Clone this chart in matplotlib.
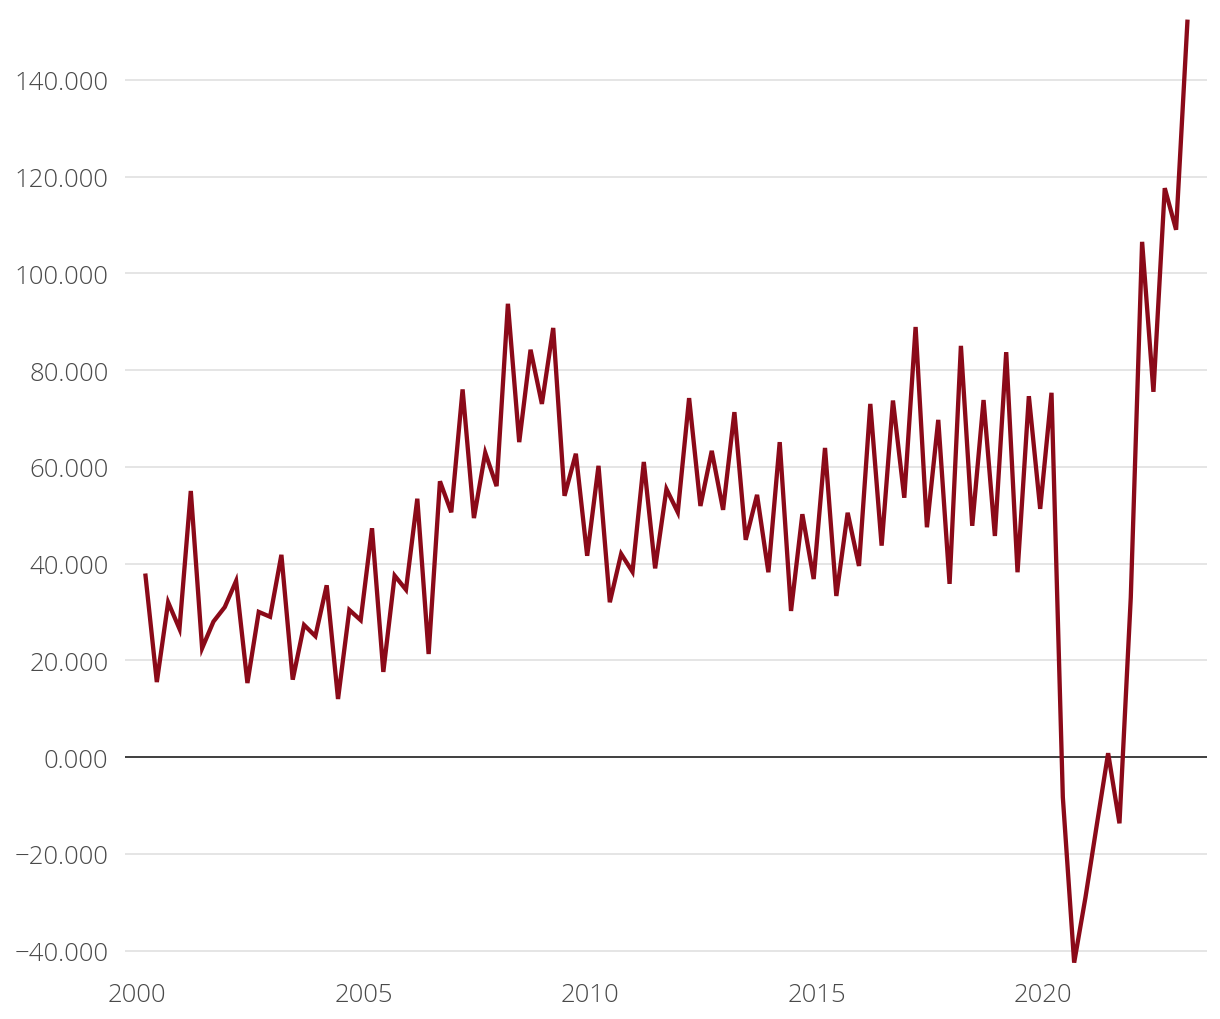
"""
Quarterly series 2000-2023 as a single line chart (values in thousands).
"""

import matplotlib

matplotlib.use("Agg")
import matplotlib.pyplot as plt
from matplotlib.ticker import FuncFormatter


YEARS = list(range(2000, 2024))

# one row per year, Q1..Q4 (2023 only has Q1)
VALUES_2000S = [
    [37.5, 15.5, 32.0, 26.5],
    [55.0, 22.5, 28.0, 31.0],
    [36.4, 15.3, 30.0, 29.0],
    [41.8, 16.0, 27.3, 25.0],
    [35.5, 12.0, 30.4, 28.3],
    [47.3, 17.6, 37.5, 34.6],
    [53.4, 21.3, 57.0, 50.6],
    [76.0, 49.4, 62.9, 56.0],
    [93.7, 65.1, 84.2, 73.0],
    [88.7, 54.0, 62.7, 41.6],
]

VALUES_2010S = [
    [60.2, 32.0, 42.0, 38.3],
    [61.0, 39.0, 55.4, 50.6],
    [74.2, 51.9, 63.3, 51.1],
    [71.3, 44.9, 54.2, 38.2],
    [65.1, 30.2, 50.2, 36.8],
    [63.9, 33.3, 50.5, 39.5],
    [73.0, 43.7, 73.7, 53.6],
    [88.9, 47.5, 69.7, 35.8],
    [85.0, 47.8, 73.8, 45.7],
    [83.7, 38.2, 74.6, 51.3],
]

VALUES_2020S = [
    [75.3, -8.3, -42.5, -29.0],
    [-14.0, 0.8, -13.7, 33.0],
    [106.5, 75.5, 117.6, 109.0],
    [152.0],
]

Y_TICKS = [-40, -20, 0, 20, 40, 60, 80, 100, 120, 140]
X_TICKS = [2000, 2005, 2010, 2015, 2020]

LINE_COLOR = "#8b0a19"
TEXT_COLOR = "#4a4a4a"
GRID_COLOR = "#e3e3e3"


def quarterly_points():
    """Flatten the yearly rows into (decimal year, value) pairs."""
    rows = VALUES_2000S + VALUES_2010S + VALUES_2020S
    x_values = []
    y_values = []

    for year, quarters in zip(YEARS, rows):
        for quarter, value in enumerate(quarters, start=1):
            x_values.append(year + (quarter - 0.25) / 4)
            y_values.append(value)

    return x_values, y_values


def main():
    plt.rcParams["font.family"] = ["Open Sans", "DejaVu Sans"]
    plt.rcParams["font.weight"] = "light"

    figure = plt.figure(figsize=(12.2, 10.2), dpi=100)
    axis = figure.add_axes([125 / 1220, 52 / 1020, 1082 / 1220, 953 / 1020])

    x_values, y_values = quarterly_points()

    axis.plot(
        x_values,
        y_values,
        color=LINE_COLOR,
        linewidth=3.1,
        solid_joinstyle="miter",
        zorder=3,
        clip_on=False,
    )

    axis.axhline(0, color="#333333", linewidth=1.3, zorder=2)

    axis.set_xlim(1999.735, 2023.62)
    axis.set_ylim(-43.4, 153.6)

    axis.set_yticks(Y_TICKS)
    axis.set_xticks(X_TICKS)

    axis.yaxis.set_major_formatter(
        FuncFormatter(lambda v, _: f"{v:.3f}".replace("-", "\u2212"))
    )

    axis.grid(axis="y", color=GRID_COLOR, linewidth=1.3, zorder=1)
    axis.grid(axis="x", visible=False)

    axis.tick_params(
        axis="both",
        length=0,
        labelsize=18.5,
        labelcolor=TEXT_COLOR,
    )
    axis.tick_params(axis="y", pad=12)
    axis.tick_params(axis="x", pad=11)

    for spine in axis.spines.values():
        spine.set_visible(False)

    figure.savefig("out.png", dpi=100)
    plt.close(figure)


if __name__ == "__main__":
    main()
